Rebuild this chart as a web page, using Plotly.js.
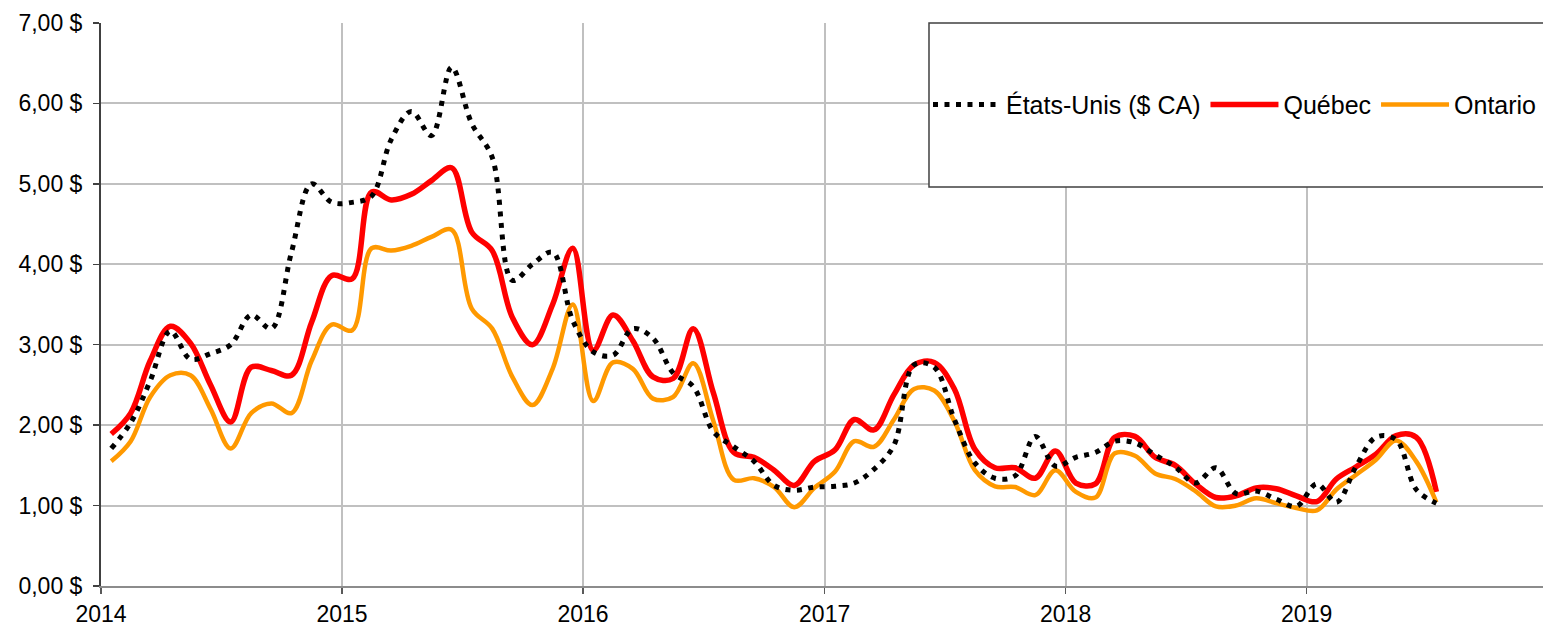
<!DOCTYPE html>
<html>
<head>
<meta charset="utf-8">
<script src="https://cdn.plot.ly/plotly-3.0.1.min.js"></script>
<style>
  html, body { margin: 0; padding: 0; background: #fff; }
  #chart { width: 1543px; height: 626px; }
</style>
</head>
<body>
<div id="chart"></div>
<script>
// Months (monthly observations, Jan 2014 - Jul 2019)
const months = [
  "2014-01","2014-02","2014-03","2014-04","2014-05","2014-06","2014-07","2014-08","2014-09","2014-10","2014-11","2014-12",
  "2015-01","2015-02","2015-03","2015-04","2015-05","2015-06","2015-07","2015-08","2015-09","2015-10","2015-11","2015-12",
  "2016-01","2016-02","2016-03","2016-04","2016-05","2016-06","2016-07","2016-08","2016-09","2016-10","2016-11","2016-12",
  "2017-01","2017-02","2017-03","2017-04","2017-05","2017-06","2017-07","2017-08","2017-09","2017-10","2017-11","2017-12",
  "2018-01","2018-02","2018-03","2018-04","2018-05","2018-06","2018-07","2018-08","2018-09","2018-10","2018-11","2018-12",
  "2019-01","2019-02","2019-03","2019-04","2019-05","2019-06","2019-07"
];

// Series names
const seriesNames = ["États-Unis ($ CA)", "Québec", "Ontario"];

// États-Unis ($ CA)
const usValues = [
  1.71, 2.03, 2.55, 3.17, 2.82, 2.89, 3.00, 3.37, 3.20, 4.15, 5.00, 4.77,
  4.77, 4.85, 5.55, 5.90, 5.60, 6.45, 5.75, 5.33, 3.80, 4.00, 4.15, 3.30,
  2.91, 2.87, 3.20, 3.08, 2.65, 2.48, 1.92, 1.73, 1.55, 1.25, 1.19, 1.23,
  1.24, 1.28, 1.45, 1.75, 2.75, 2.72, 2.07, 1.53, 1.34, 1.37, 1.86, 1.49,
  1.60, 1.66, 1.80, 1.78, 1.63, 1.48, 1.28, 1.47, 1.15, 1.18, 1.08, 0.99,
  1.27, 1.04, 1.48, 1.85, 1.82, 1.20, 1.03
];

// Québec
const qcValues = [
  1.89, 2.15, 2.80, 3.23, 3.02, 2.50, 2.04, 2.72, 2.68, 2.62, 3.28, 3.86,
  3.82, 4.90, 4.80, 4.87, 5.04, 5.20, 4.40, 4.17, 3.34, 3.00, 3.50, 4.20,
  2.93, 3.37, 3.05, 2.60, 2.58, 3.20, 2.40, 1.66, 1.60, 1.44, 1.25, 1.55,
  1.69, 2.07, 1.94, 2.38, 2.75, 2.78, 2.45, 1.70, 1.47, 1.47, 1.34, 1.68,
  1.28, 1.27, 1.85, 1.86, 1.60, 1.50, 1.27, 1.10, 1.12, 1.22, 1.21, 1.12,
  1.05, 1.33, 1.48, 1.64, 1.87, 1.85, 1.17
];

// Ontario
const onValues = [
  1.55, 1.80, 2.35, 2.62, 2.62, 2.20, 1.71, 2.15, 2.27, 2.15, 2.80, 3.25,
  3.18, 4.20, 4.17, 4.23, 4.34, 4.43, 3.45, 3.20, 2.60, 2.25, 2.70, 3.50,
  2.30, 2.78, 2.70, 2.33, 2.35, 2.77, 2.05, 1.32, 1.34, 1.23, 0.98, 1.22,
  1.42, 1.80, 1.73, 2.07, 2.45, 2.43, 2.05, 1.44, 1.24, 1.23, 1.13, 1.44,
  1.17, 1.10, 1.65, 1.62, 1.40, 1.33, 1.18, 0.99, 1.00, 1.09, 1.03, 0.97,
  0.94, 1.20, 1.38, 1.57, 1.81, 1.55, 1.04
];

// Axis ticks
const xTickVals = ["2014-01-01","2015-01-01","2016-01-01","2017-01-01","2018-01-01","2019-01-01"];
const xTickText = ["2014","2015","2016","2017","2018","2019"];
const yTickVals = [0, 1, 2, 3, 4, 5, 6, 7];
const yTickText = ["0,00 $","1,00 $","2,00 $","3,00 $","4,00 $","5,00 $","6,00 $","7,00 $"];

const common = {
  x: months,
  xperiod: "M1",
  xperiodalignment: "middle",
  mode: "lines",
  hoverinfo: "skip"
};

const traces = [
  Object.assign({}, common, {
    y: qcValues, name: seriesNames[1], legendrank: 2,
    line: { color: "#ff0000", width: 5.5, shape: "spline", smoothing: 1 }
  }),
  Object.assign({}, common, {
    y: onValues, name: seriesNames[2], legendrank: 3,
    line: { color: "#ff9900", width: 4.5, shape: "spline", smoothing: 1 }
  }),
  Object.assign({}, common, {
    y: usValues, name: seriesNames[0], legendrank: 1,
    line: { color: "#000000", width: 5, dash: "5px,6.5px", shape: "spline", smoothing: 1 }
  })
];

const FONT = '"Liberation Sans", Arial, sans-serif';

const layout = {
  width: 1543,
  height: 626,
  margin: { l: 101, r: 0, t: 23, b: 40, pad: 0 },
  paper_bgcolor: "#ffffff",
  plot_bgcolor: "#ffffff",
  font: { family: FONT, size: 23, color: "#000000" },
  showlegend: true,
  legend: {
    orientation: "h",
    x: 0.5735, xanchor: "left",
    y: 0.855, yanchor: "middle",
    bgcolor: "rgba(0,0,0,0)",
    borderwidth: 0,
    itemwidth: 68,
    font: { family: FONT, size: 25, color: "#000000" }
  },
  xaxis: {
    type: "date",
    range: ["2014-01-01", "2019-12-25"],
    tickmode: "array",
    tickvals: xTickVals,
    ticktext: xTickText,
    showgrid: true,
    gridcolor: "#c0c0c0",
    gridwidth: 2,
    showline: true,
    linecolor: "#8c8c8c",
    linewidth: 2,
    ticks: "outside",
    ticklen: 6,
    tickwidth: 1.5,
    tickcolor: "#595959",
    zeroline: false,
    tickfont: { family: FONT, size: 23, color: "#000000" }
  },
  yaxis: {
    range: [0, 7],
    tickmode: "array",
    tickvals: yTickVals,
    ticktext: yTickText,
    showgrid: true,
    gridcolor: "#c0c0c0",
    gridwidth: 2,
    showline: true,
    linecolor: "#404040",
    linewidth: 2,
    ticks: "outside",
    ticklen: 6,
    tickwidth: 1.5,
    tickcolor: "#404040",
    zeroline: false,
    ticklabelstandoff: 6,
    tickfont: { family: FONT, size: 23, color: "#000000" }
  },
  shapes: [
    {
      type: "rect", xref: "paper", yref: "paper",
      x0: 0.5742, x1: 1.01, y0: 0.7087, y1: 1.0,
      line: { color: "#404040", width: 1.5 },
      fillcolor: "#ffffff",
      layer: "above"
    }
  ]
};

Plotly.newPlot("chart", traces, layout, { staticPlot: true, displayModeBar: false });
</script>
</body>
</html>
